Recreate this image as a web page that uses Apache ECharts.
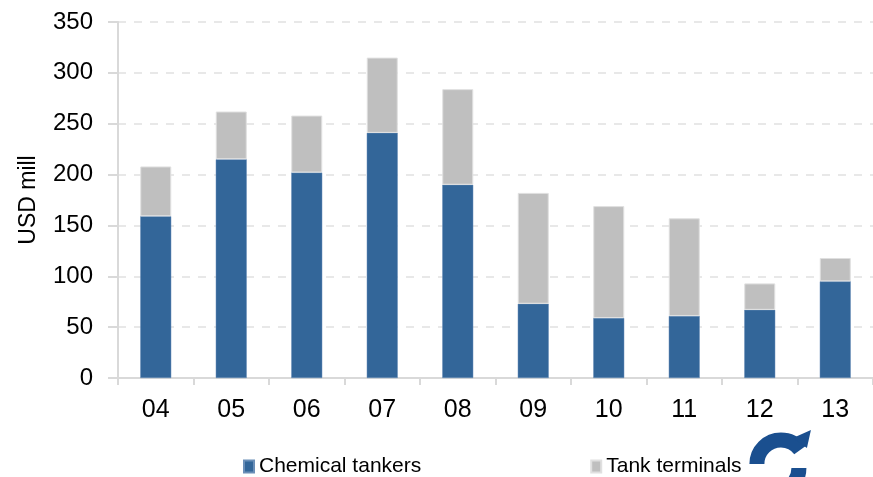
<!DOCTYPE html>
<html>
<head>
<meta charset="utf-8">
<script src="https://cdn.jsdelivr.net/npm/echarts@6/dist/echarts.min.js"></script>
<style>
  html, body { margin: 0; padding: 0; background: #fff; }
  #chart { width: 873px; height: 477px; }
</style>
</head>
<body>
<div id="chart"></div>
<script>
// years, two digit
var years = ['04', '05', '06', '07', '08', '09', '10', '11', '12', '13'];
// USD mill
var chemicalTankers = [159, 215, 202, 241, 190, 73, 59, 61, 67, 95];
var tankTerminals = [49, 47, 56, 74, 94, 109, 110, 96, 26, 23];

var FONT = 'Liberation Sans, Arial, sans-serif';

var chart = echarts.init(document.getElementById('chart'));

var option = {
    animation: false,
    backgroundColor: '#ffffff',
    grid: { left: 118, top: 22, width: 770, height: 356 },
    legend: {
        left: 238, top: 451,
        itemWidth: 10, itemHeight: 12, itemGap: 169,
        icon: 'rect',
        textStyle: { fontFamily: FONT, fontSize: 21, color: '#000', padding: [1, 0, 0, 0] },
        data: ['Chemical tankers', 'Tank terminals']
    },
    xAxis: {
        type: 'category',
        data: years,
        axisLine: { lineStyle: { color: '#d9d9d9', width: 2 } },
        axisTick: { show: true, length: 7, lineStyle: { color: '#d9d9d9', width: 2 } },
        axisLabel: { fontFamily: FONT, fontSize: 25, color: '#000', margin: 20 }
    },
    yAxis: {
        type: 'value',
        min: 0, max: 350, interval: 50,
        name: 'USD mill',
        nameLocation: 'middle',
        nameGap: 78,
        nameTextStyle: { fontFamily: FONT, fontSize: 23, color: '#000' },
        axisLine: { show: true, lineStyle: { color: '#d9d9d9', width: 2 } },
        axisTick: { show: true, length: 10, lineStyle: { color: '#d9d9d9', width: 2 } },
        axisLabel: { fontFamily: FONT, fontSize: 24, color: '#000', margin: 25 },
        splitLine: { lineStyle: { color: '#e8e8e8', type: [8, 8], width: 2 } }
    },
    series: [
        {
            name: 'Chemical tankers',
            type: 'bar',
            stack: 'total',
            barWidth: 31,
            itemStyle: { color: '#336699', borderColor: '#6b8fb8', borderWidth: 0.5 },
            data: chemicalTankers
        },
        {
            name: 'Tank terminals',
            type: 'bar',
            stack: 'total',
            barWidth: 31,
            itemStyle: { color: '#bfbfbf', borderColor: '#e0e0e0', borderWidth: 1 },
            data: tankTerminals
        }
    ],
    graphic: [
        {
            type: 'group',
            left: 748, top: 430,
            children: [
                {
                    type: 'arc',
                    shape: { cx: 38, cy: 36, r: 24, startAngle: Math.PI * 1.0, endAngle: Math.PI * 1.8 },
                    style: { stroke: '#1a4f8f', lineWidth: 15, fill: null, lineCap: 'butt' }
                },
                {
                    type: 'arc',
                    shape: { cx: 32, cy: 40, r: 24, startAngle: Math.PI * 0.0, endAngle: Math.PI * 0.8 },
                    style: { stroke: '#1a4f8f', lineWidth: 15, fill: null, lineCap: 'butt' }
                },
                {
                    type: 'polygon',
                    shape: { points: [[50, 10], [68, 2], [64, 20]] },
                    style: { fill: '#1a4f8f' }
                }
            ]
        }
    ]
};

chart.setOption(option);
</script>
</body>
</html>
